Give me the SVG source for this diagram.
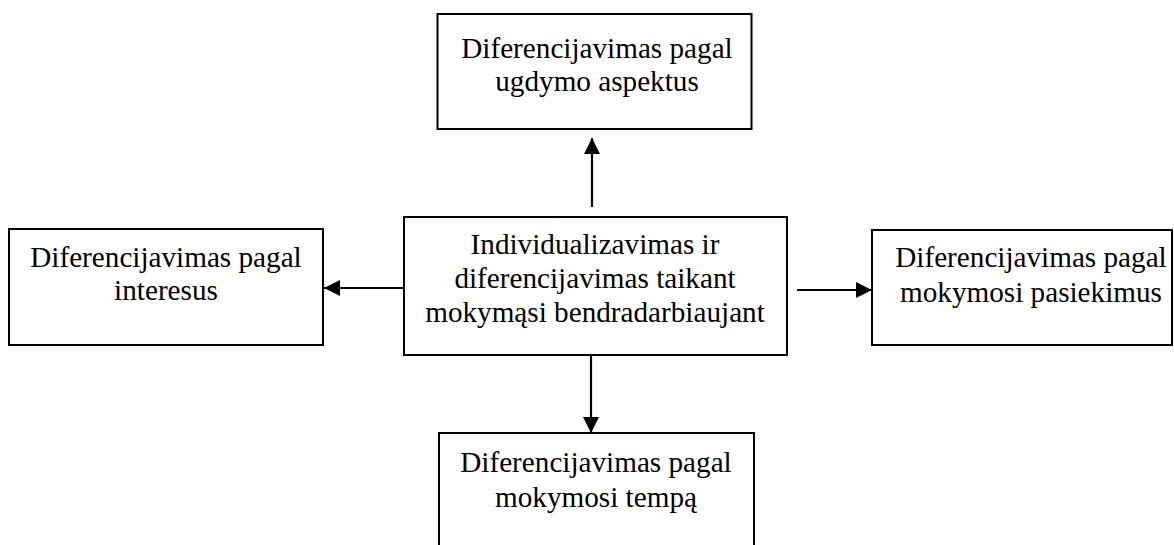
<svg xmlns="http://www.w3.org/2000/svg" width="1174" height="545" viewBox="0 0 1174 545">
  <style>
    .box { fill: #ffffff; stroke: #000000; stroke-width: 2; }
    .lbl { font-family: "Liberation Serif", "Times New Roman", serif; font-size: 29.2px; fill: #000000; text-anchor: middle; }
    .conn { stroke: #000000; stroke-width: 2.2; fill: none; marker-end: url(#arrow); }
  </style>
  <defs>
    <marker id="arrow" viewBox="0 0 16 16" refX="16" refY="8" markerWidth="16" markerHeight="16" markerUnits="userSpaceOnUse" orient="auto">
      <path d="M0,0 L16,8 L0,16 Z" fill="#000000"/>
    </marker>
  </defs>
  <rect width="1174" height="545" fill="#ffffff"/>

  <g id="connectors">
    <line class="conn" x1="592" y1="207" x2="592" y2="138"/>
    <line class="conn" x1="404" y1="288" x2="324" y2="288"/>
    <line class="conn" x1="797" y1="290" x2="872" y2="290"/>
    <line class="conn" x1="591" y1="355" x2="591" y2="433"/>
  </g>

  <g id="node-top">
    <rect class="box" x="437.5" y="14" width="314" height="115"/>
    <text class="lbl" x="597" y="58">Diferencijavimas pagal</text>
    <text class="lbl" x="597" y="91">ugdymo aspektus</text>
  </g>

  <g id="node-center">
    <rect class="box" x="404" y="217" width="383" height="138"/>
    <text class="lbl" x="595" y="254">Individualizavimas ir</text>
    <text class="lbl" x="595" y="288">diferencijavimas taikant</text>
    <text class="lbl" x="595" y="322">mokymąsi bendradarbiaujant</text>
  </g>

  <g id="node-left">
    <rect class="box" x="9" y="229" width="314" height="116"/>
    <text class="lbl" x="166" y="267">Diferencijavimas pagal</text>
    <text class="lbl" x="166" y="300">interesus</text>
  </g>

  <g id="node-right">
    <rect class="box" x="872" y="230" width="300" height="115"/>
    <text class="lbl" x="1031" y="267">Diferencijavimas pagal</text>
    <text class="lbl" x="1031" y="302">mokymosi pasiekimus</text>
  </g>

  <g id="node-bottom">
    <rect class="box" x="439" y="433" width="315" height="130"/>
    <text class="lbl" x="596" y="472">Diferencijavimas pagal</text>
    <text class="lbl" x="596" y="507">mokymosi tempą</text>
  </g>
</svg>
